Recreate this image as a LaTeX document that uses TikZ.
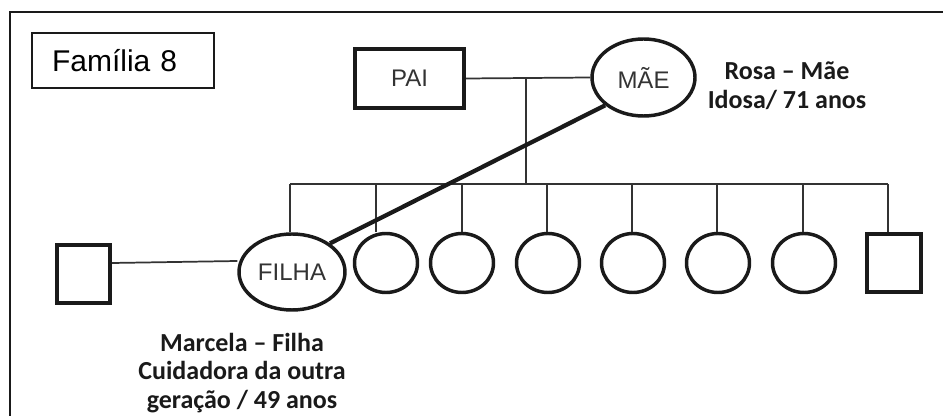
\documentclass[tikz,border=0pt]{standalone}
\usepackage{fontspec}
\setmainfont{Liberation Sans}
\newfontfamily\calfont{Carlito}
\usetikzlibrary{shapes.geometric,calc}
\definecolor{ink}{HTML}{1A1A1A}
\definecolor{lineg}{HTML}{333333}
\begin{document}
\begin{tikzpicture}[x=0.75pt,y=-0.75pt,
  thinline/.style={draw=lineg,line width=1.3pt},
  thickbox/.style={draw=ink,line width=3pt,rectangle,inner sep=0pt},
  person/.style={draw=ink,line width=2.6pt,ellipse,inner sep=0pt,font=\fontsize{18}{20}\selectfont,text=lineg},
  child/.style={person,minimum width=47.25pt,minimum height=44.25pt},
  annot/.style={align=center,font=\calfont\bfseries\fontsize{19.5}{21.5}\selectfont,text=ink}
]
\useasboundingbox (0,0) rectangle (943,416);
% frame (top and left edges)
\draw[draw=ink,line width=1.2pt] (10,416) -- (10,12) -- (943,12);
% title box
\node[draw=ink,line width=1.1pt,rectangle,minimum width=136.5pt,minimum height=41.25pt,
      inner xsep=15pt,text width=106.5pt,align=left,font=\fontsize{22.5}{24}\selectfont]
      (title) at (123,60.5) {Família 8};
% parents
\node[thickbox,minimum width=81.75pt,minimum height=44.25pt,font=\fontsize{18}{20}\selectfont,text=lineg]
      (pai) at (409.5,78.5) {PAI};
\node[person,minimum width=77.25pt,minimum height=57.75pt] (mae) at (643.5,77.5) {MÃE};
\node[annot] (rosa) at (787,86) {Rosa – Mãe\\Idosa/ 71 anos};
% children
\node[person,minimum width=79.5pt,minimum height=57pt] (filha) at (292,272) {FILHA};
\node[child] (c1) at (386,263) {};
\node[child] (c2) at (462,263) {};
\node[child] (c3) at (548,263) {};
\node[child] (c4) at (633,263) {};
\node[child] (c5) at (718,263) {};
\node[child] (c6) at (804,263) {};
\node[thickbox,minimum width=40.5pt,minimum height=43.5pt] (rsq) at (894,263) {};
% spouse of FILHA
\node[thickbox,minimum width=39.75pt,minimum height=43.5pt] (lsq) at (83.5,274) {};
\node[annot] (marcela) at (242,373) {Marcela – Filha\\Cuidadora da outra\\geração / 49 anos};
% couple line and descent
\coordinate (pm) at (526,77.5);
\coordinate (sib) at (526,184);
\coordinate (d1) at (290,184);
\coordinate (d2) at (376,184);
\coordinate (d3) at (462,184);
\coordinate (d4) at (547,184);
\coordinate (d5) at (632,184);
\coordinate (d6) at (717,184);
\coordinate (d7) at (803,184);
\coordinate (d8) at (888,184);
\draw[thinline] (pai.east) -- (mae.west);
\draw[thinline] (pm) -- (sib);
\draw[thinline] (d1) -- (d8);
\draw[thinline] (d1) -- (d1 |- filha.north);
\draw[thinline] (d2) -- (d2 |- c1.north);
\draw[thinline] (d3) -- (d3 |- c2.north);
\draw[thinline] (d4) -- (d4 |- c3.north);
\draw[thinline] (d5) -- (d5 |- c4.north);
\draw[thinline] (d6) -- (d6 |- c5.north);
\draw[thinline] (d7) -- (d7 |- c6.north);
\draw[thinline] (d8) -- (d8 |- rsq.north);
\draw[thinline] ([yshift=8.25pt]lsq.east) -- ([yshift=8.25pt]filha.west);
% caregiving tie
\draw[draw=ink,line width=3.2pt] (mae.216) -- (filha.37);
\end{tikzpicture}
\end{document}
